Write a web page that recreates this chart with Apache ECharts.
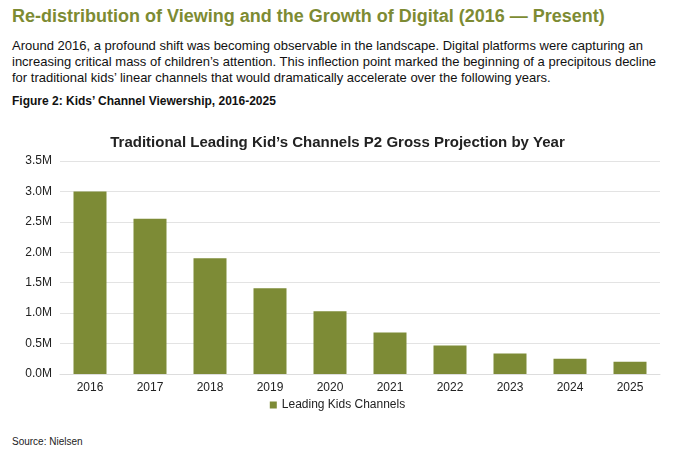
<!DOCTYPE html><html><head><meta charset="utf-8"><script src="https://cdn.jsdelivr.net/npm/echarts@6/dist/echarts.min.js"></script>
<style>body{margin:0;width:675px;height:452px;background:#fff;font-family:"Liberation Sans",Arial,sans-serif;position:relative;overflow:hidden}
#h{position:absolute;left:12px;top:6px;font-size:18px;font-weight:bold;color:#7d8b33}
#p{position:absolute;left:12px;top:38px;font-size:13px;line-height:16px;color:#111;width:660px}
#f{position:absolute;left:12px;top:94px;font-size:12px;font-weight:bold;color:#111}
#s{position:absolute;left:12px;top:436px;font-size:10px;color:#222}
#c{position:absolute;left:0;top:120px;width:675px;height:310px}</style></head><body>
<div id="h">Re-distribution of Viewing and the Growth of Digital (2016 — Present)</div>
<div id="p">Around 2016, a profound shift was becoming observable in the landscape. Digital platforms were capturing an increasing critical mass of children’s attention. This inflection point marked the beginning of a precipitous decline for traditional kids’ linear channels that would dramatically accelerate over the following years.</div>
<div id="f">Figure 2: Kids’ Channel Viewership, 2016-2025</div>
<div id="c"></div>
<div id="s">Source: Nielsen</div>
<script>
const years=['2016','2017','2018','2019','2020','2021','2022','2023','2024','2025'];
const viewers=[3.0,2.55,1.9,1.41,1.03,0.68,0.47,0.335,0.25,0.2];
const seriesName='Leading Kids Channels';
const ch=echarts.init(document.getElementById('c'));
ch.setOption({animation:false,
title:{text:'Traditional Leading Kid’s Channels P2 Gross Projection by Year',left:'center',top:10,textStyle:{fontSize:15,fontWeight:'bold',color:'#222'}},
grid:{left:60,right:15,top:41,bottom:56},
legend:{bottom:14,itemWidth:7,itemHeight:7,icon:'rect',textStyle:{fontSize:12,color:'#222'}},
xAxis:{type:'category',data:years,axisTick:{show:false},axisLine:{lineStyle:{color:'#ddd'}},axisLabel:{fontSize:12,color:'#222'}},
yAxis:{type:'value',min:0,max:3.5,interval:0.5,axisLabel:{fontSize:12,color:'#222',formatter:v=>v.toFixed(1)+'M'},splitLine:{lineStyle:{color:'#e3e3e3'}}},
series:[{name:seriesName,type:'bar',data:viewers,barWidth:'55%',itemStyle:{color:'#7d8b36'}}]});
</script></body></html>
